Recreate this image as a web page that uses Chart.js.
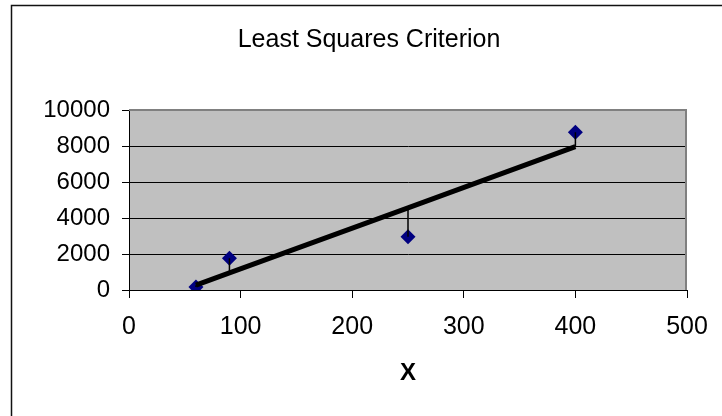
<!DOCTYPE html>
<html>
<head>
<meta charset="utf-8">
<title>Least Squares Criterion</title>
<script src="https://cdn.jsdelivr.net/npm/chart.js@4.4.1/dist/chart.umd.min.js"></script>
<style>
    html, body { margin: 0; padding: 0; background: #ffffff; }
    canvas { display: block; }
</style>
</head>
<body>
<canvas id="leastSquaresChart" width="722" height="416"></canvas>
<script>
// Observed data points
const xValues = [60, 90, 250, 400];
const yValues = [160, 1760, 2960, 8760];

// Fitted line values at the same x
const fittedValues = [270, 950, 4560, 7960];

// Axis ticks
const xTicks = [0, 100, 200, 300, 400, 500];
const yTicks = [0, 2000, 4000, 6000, 8000, 10000];

const LeastSquaresChart = {
    fontFamily: '"Liberation Sans", Arial, sans-serif',

    // Plot background and frames (Excel style)
    framePlugin: {
        id: 'excelFrame',
        beforeDraw(chart) {
            const { ctx, chartArea: a } = chart;
            ctx.save();
            ctx.fillStyle = '#c0c0c0';
            ctx.fillRect(a.left, a.top, a.right - a.left, a.bottom - a.top);

            // outer chart border, only left and top are visible
            ctx.strokeStyle = '#111111';
            ctx.lineWidth = 1.5;
            ctx.beginPath();
            ctx.moveTo(11.5, 416);
            ctx.lineTo(11.5, 5.5);
            ctx.lineTo(722, 5.5);
            ctx.stroke();
            ctx.restore();
        },
        beforeDatasetsDraw(chart) {
            const { ctx, chartArea: a } = chart;
            ctx.save();
            ctx.strokeStyle = '#808080';
            ctx.lineWidth = 2;
            ctx.beginPath();
            ctx.moveTo(a.left, a.top);
            ctx.lineTo(a.right - 1, a.top);
            ctx.lineTo(a.right - 1, a.bottom);
            ctx.stroke();
            ctx.restore();
        }
    },

    buildDatasets() {
        const points = xValues.map((x, i) => ({ x: x, y: yValues[i] }));
        const fitted = xValues.map((x, i) => ({ x: x, y: fittedValues[i] }));

        // one short vertical segment per residual
        const residuals = xValues.map((x, i) => ({
            label: 'residual ' + (i + 1),
            data: [{ x: x, y: yValues[i] }, { x: x, y: fittedValues[i] }],
            showLine: true,
            borderColor: '#000000',
            borderWidth: 1.5,
            pointRadius: 0,
            order: 2
        }));

        return [
            {
                label: 'Fitted line',
                data: fitted,
                showLine: true,
                borderColor: '#000000',
                borderWidth: 5,
                pointRadius: 0,
                borderCapStyle: 'butt',
                order: 1
            },
            ...residuals,
            {
                label: 'Data',
                data: points,
                pointStyle: 'rectRot',
                pointRadius: 7.5,
                pointBackgroundColor: '#000080',
                pointBorderColor: '#000080',
                pointBorderWidth: 0,
                showLine: false,
                order: 3
            }
        ];
    },

    initializeChart() {
        const ctx = document.getElementById('leastSquaresChart');
        const font = this.fontFamily;

        new Chart(ctx, {
            type: 'scatter',
            data: { datasets: this.buildDatasets() },
            plugins: [this.framePlugin],
            options: {
                responsive: false,
                animation: false,
                devicePixelRatio: 1,
                layout: { padding: { left: 16, right: 0, top: 0, bottom: 0 } },
                plugins: {
                    legend: { display: false },
                    tooltip: { enabled: false },
                    title: {
                        display: true,
                        text: 'Least Squares Criterion',
                        color: '#000000',
                        font: { family: font, size: 25, weight: 'normal', lineHeight: 1.2 },
                        padding: { top: 25.5, bottom: 54.5 }
                    }
                },
                scales: {
                    x: {
                        type: 'linear',
                        min: xTicks[0],
                        max: xTicks[xTicks.length - 1],
                        afterBuildTicks(scale) {
                            scale.ticks = xTicks.map(v => ({ value: v }));
                        },
                        afterFit(scale) {
                            scale.height = 126;
                            scale.paddingRight = 35;
                        },
                        ticks: {
                            color: '#000000',
                            font: { family: font, size: 25 },
                            padding: 14,
                            maxRotation: 0,
                            callback: v => String(v)
                        },
                        grid: {
                            drawOnChartArea: false,
                            drawTicks: true,
                            tickLength: 8,
                            color: '#000000',
                            lineWidth: 1
                        },
                        border: { display: true, color: '#000000', width: 1 },
                        title: {
                            display: true,
                            text: 'X',
                            color: '#000000',
                            font: { family: font, size: 24, weight: 'bold', lineHeight: 1.2 },
                            padding: { top: 0, bottom: 28.6 }
                        }
                    },
                    y: {
                        type: 'linear',
                        min: yTicks[0],
                        max: yTicks[yTicks.length - 1],
                        afterBuildTicks(scale) {
                            scale.ticks = yTicks.map(v => ({ value: v }));
                        },
                        afterFit(scale) {
                            scale.width = 113;
                        },
                        ticks: {
                            color: '#000000',
                            font: { family: font, size: 24 },
                            padding: 12,
                            callback: v => String(v)
                        },
                        grid: {
                            drawTicks: true,
                            tickLength: 7,
                            color: c => (c.tick && c.tick.value === 10000 ? '#808080' : '#000000'),
                            tickColor: '#000000',
                            lineWidth: 1
                        },
                        border: { display: true, color: '#000000', width: 1 }
                    }
                }
            }
        });
    }
};

LeastSquaresChart.initializeChart();
</script>
</body>
</html>
